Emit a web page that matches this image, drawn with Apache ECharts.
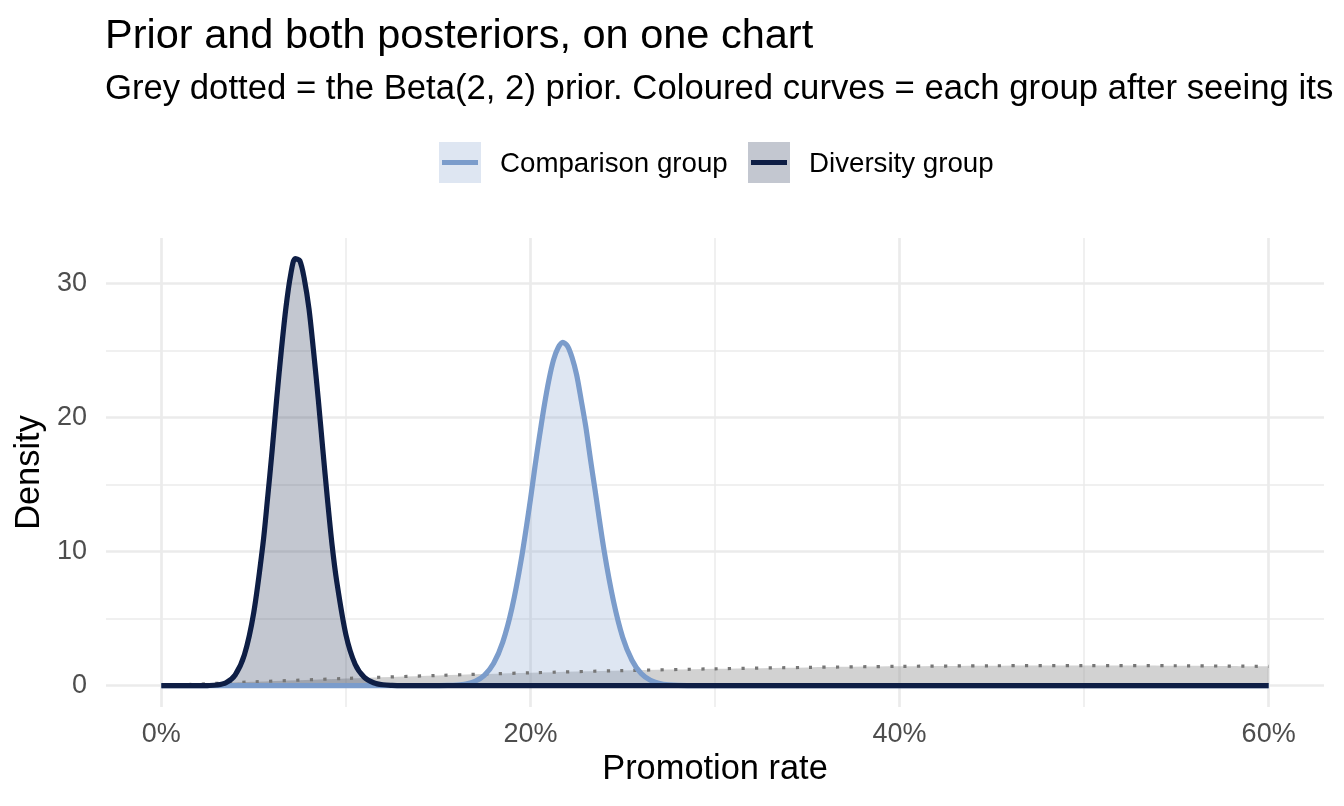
<!DOCTYPE html>
<html style="height: 100%">

<head>
  <meta charset="utf-8">
  <title>Prior and both posteriors</title>
</head>

<body style="height: 100%; margin: 0; background: #fff">
  <div id="container" style="width: 1344px; height: 806px"></div>
  <script type="text/javascript" src="https://cdn.jsdelivr.net/npm/echarts@6/dist/echarts.min.js"></script>
  <script type="text/javascript">
    // values (x = promotion rate, y = density)
    const priorRate = [0, 0.05, 0.1, 0.15, 0.2, 0.25, 0.3, 0.35, 0.4, 0.45, 0.5, 0.55, 0.6];
    const priorDensity = [0, 0.285, 0.54, 0.765, 0.96, 1.125, 1.26, 1.365, 1.44, 1.485, 1.5, 1.485, 1.44];

    const compRate = [0, 0.14, 0.15, 0.155, 0.16, 0.165, 0.17, 0.175, 0.18, 0.185, 0.19, 0.195, 0.2, 0.2025, 0.205,
      0.2075, 0.21, 0.2125, 0.215, 0.2175, 0.22, 0.2225, 0.225, 0.2275, 0.23, 0.2325, 0.235, 0.24, 0.245, 0.25,
      0.255, 0.26, 0.265, 0.27, 0.275, 0.28, 0.29, 0.6];
    const compDensity = [0, 0, 0.01, 0.02, 0.05, 0.13, 0.33, 0.77, 1.65, 3.25, 5.8, 9.4, 13.9, 16.4, 18.7,
      20.9, 22.8, 24.3, 25.2, 25.6, 25.35, 24.5, 23.2, 21.3, 19.3, 16.9, 14.6, 10.0, 6.3, 3.6,
      1.9, 0.9, 0.4, 0.16, 0.06, 0.02, 0, 0];

    const divRate = [0, 0.02, 0.025, 0.03, 0.035, 0.04, 0.045, 0.05, 0.055, 0.0575, 0.06, 0.0625, 0.065, 0.0675,
      0.07, 0.0725, 0.075, 0.0775, 0.08, 0.0825, 0.085, 0.0875, 0.09, 0.0925, 0.095, 0.1, 0.105, 0.11, 0.115,
      0.12, 0.125, 0.13, 0.6];
    const divDensity = [0, 0, 0.01, 0.05, 0.22, 0.8, 2.3, 5.4, 10.5, 13.9, 17.5, 21.4, 25.0, 28.2,
      30.6, 31.85, 31.7, 30.3, 28.1, 24.9, 21.4, 17.6, 13.9, 10.5, 7.8, 3.8, 1.6, 0.62, 0.22,
      0.07, 0.02, 0, 0];

    const rateTicks = [0, 0.2, 0.4, 0.6];
    const rateMinor = [0.1, 0.3, 0.5];
    const densityTicks = [0, 10, 20, 30];
    const densityMinor = [5, 15, 25];

    const font = "'Liberation Sans', Arial, Helvetica, sans-serif";
    const compLine = '#7b9ccb', compFill = 'rgba(123,156,203,0.25)';
    const divLine = '#0e1e45', divFill = 'rgba(14,30,69,0.25)';

    const zip = (xs, ys) => xs.map((x, i) => [x, ys[i]]);

    let dom = document.getElementById('container');
    let myChart = echarts.init(dom, null, { renderer: 'canvas' });

    // grid lines drawn as mark lines so they can run over the expanded panel
    const gridLines = [];
    rateTicks.forEach(v => gridLines.push({ xAxis: v, lineStyle: { width: 2.7 } }));
    rateMinor.forEach(v => gridLines.push({ xAxis: v, lineStyle: { width: 1.5 } }));
    densityTicks.forEach(v => gridLines.push({ yAxis: v, lineStyle: { width: 2.7 } }));
    densityMinor.forEach(v => gridLines.push({ yAxis: v, lineStyle: { width: 1.5 } }));

    function areaSeries(name, data, fill, z) {
      return {
        type: 'line', name: name, data: data, z: z,
        smooth: 0.3, showSymbol: false, silent: true,
        lineStyle: { width: 0, opacity: 0 },
        areaStyle: { color: fill, opacity: 1, origin: 0 }
      };
    }
    function lineSeries(name, data, color, width, type, z) {
      return {
        type: 'line', name: name, data: data, z: z,
        smooth: 0.3, showSymbol: false, silent: true,
        lineStyle: { color: color, width: width, type: type, cap: 'butt', join: 'round' }
      };
    }

    let option = {
      animation: false,
      textStyle: { fontFamily: font },
      title: [
        {
          text: 'Prior and both posteriors, on one chart',
          left: 105, top: 16, padding: 0,
          textStyle: { fontFamily: font, fontSize: 41.5, fontWeight: 'normal', color: '#000', lineHeight: 41.5 }
        },
        {
          text: 'Grey dotted = the Beta(2, 2) prior. Coloured curves = each group after seeing its',
          left: 105, top: 72, padding: 0,
          textStyle: { fontFamily: font, fontSize: 34.7, fontWeight: 'normal', color: '#000', lineHeight: 34.7 }
        }
      ],
      grid: { left: 106, right: 20, top: 238, bottom: 99 },
      xAxis: {
        type: 'value', min: -0.03, max: 0.63,
        name: 'Promotion rate', nameLocation: 'middle', nameGap: 43,
        nameTextStyle: { fontFamily: font, fontSize: 34.4, color: '#000' },
        axisLine: { show: false }, axisTick: { show: false }, splitLine: { show: false },
        axisLabel: {
          customValues: rateTicks, margin: 14,
          fontFamily: font, fontSize: 27, color: '#4d4d4d',
          formatter: v => Math.round(v * 100) + '%'
        }
      },
      yAxis: {
        type: 'value', min: -1.59, max: 33.39,
        name: 'Density', nameLocation: 'middle', nameGap: 56, nameRotate: 90,
        nameTextStyle: { fontFamily: font, fontSize: 34.4, color: '#000' },
        axisLine: { show: false }, axisTick: { show: false }, splitLine: { show: false },
        axisLabel: {
          customValues: densityTicks, margin: 19,
          fontFamily: font, fontSize: 27, color: '#4d4d4d'
        }
      },
      series: [
        {
          type: 'line', data: [], z: 0, silent: true,
          markLine: {
            z: 0, silent: true, symbol: 'none', animation: false,
            label: { show: false },
            lineStyle: { color: '#ebebeb', type: 'solid', opacity: 1 },
            data: gridLines
          }
        },
        areaSeries('Prior', zip(priorRate, priorDensity), 'rgba(150,150,150,0.43)', 1),
        areaSeries('Comparison group', zip(compRate, compDensity), compFill, 2),
        areaSeries('Diversity group', zip(divRate, divDensity), divFill, 3),
        lineSeries('Prior line', zip(priorRate, priorDensity), '#767676', 3.2, [3.2, 10.3], 4),
        lineSeries('Comparison line', zip(compRate, compDensity), compLine, 5.2, 'solid', 5),
        lineSeries('Diversity line', zip(divRate, divDensity), divLine, 5.2, 'solid', 6)
      ],
      // legend keys in the ggplot style: filled square with the line across it
      graphic: [
        { type: 'rect', shape: { x: 439, y: 142, width: 42, height: 41 }, style: { fill: compFill } },
        { type: 'line', shape: { x1: 442, y1: 162.5, x2: 478, y2: 162.5 }, style: { stroke: compLine, lineWidth: 5 } },
        {
          type: 'text', x: 500, y: 164,
          style: { text: 'Comparison group', font: '27.7px ' + font, fill: '#000', verticalAlign: 'middle' }
        },
        { type: 'rect', shape: { x: 748, y: 142, width: 42, height: 41 }, style: { fill: divFill } },
        { type: 'line', shape: { x1: 751, y1: 162.5, x2: 787, y2: 162.5 }, style: { stroke: divLine, lineWidth: 5 } },
        {
          type: 'text', x: 809, y: 164,
          style: { text: 'Diversity group', font: '27.7px ' + font, fill: '#000', verticalAlign: 'middle' }
        }
      ]
    };

    myChart.setOption(option);
  </script>
</body>

</html>
